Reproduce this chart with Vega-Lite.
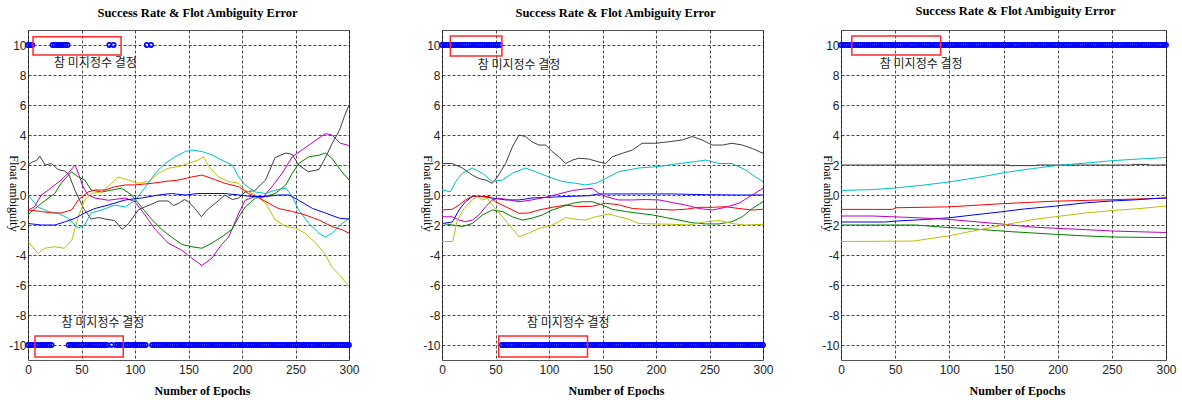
{
"$schema":"https://vega.github.io/schema/vega-lite/v6.json",
"padding":{"left":6,"top":4,"right":0,"bottom":0},
"background":"white",
"datasets":{
"lines":[
{"p":1,"s":"k","x":0,"y":2.0},{"p":1,"s":"k","x":4,"y":2.2},{"p":1,"s":"k","x":8,"y":2.3},{"p":1,"s":"k","x":11,"y":2.6},{"p":1,"s":"k","x":16,"y":2.0},{"p":1,"s":"k","x":22,"y":2.1},{"p":1,"s":"k","x":28,"y":1.7},{"p":1,"s":"k","x":34,"y":1.6},{"p":1,"s":"k","x":38,"y":1.4},{"p":1,"s":"k","x":44,"y":0.3},{"p":1,"s":"k","x":48,"y":-0.3},{"p":1,"s":"k","x":52,"y":-0.9},{"p":1,"s":"k","x":59,"y":-1.6},{"p":1,"s":"k","x":66,"y":-1.5},{"p":1,"s":"k","x":72,"y":-1.6},{"p":1,"s":"k","x":81,"y":-1.7},{"p":1,"s":"k","x":88,"y":-2.3},{"p":1,"s":"k","x":94,"y":-1.9},{"p":1,"s":"k","x":100,"y":-1.3},{"p":1,"s":"k","x":103,"y":-1.0},{"p":1,"s":"k","x":109,"y":-0.8},{"p":1,"s":"k","x":116,"y":-0.6},{"p":1,"s":"k","x":122,"y":-0.4},{"p":1,"s":"k","x":131,"y":-0.4},{"p":1,"s":"k","x":136,"y":-0.7},{"p":1,"s":"k","x":141,"y":-0.55},{"p":1,"s":"k","x":146,"y":-0.3},{"p":1,"s":"k","x":150,"y":-0.45},{"p":1,"s":"k","x":156,"y":-0.9},{"p":1,"s":"k","x":162,"y":-1.45},{"p":1,"s":"k","x":166,"y":-1.1},{"p":1,"s":"k","x":169,"y":-0.9},{"p":1,"s":"k","x":176,"y":-0.5},{"p":1,"s":"k","x":184,"y":0.0},{"p":1,"s":"k","x":191,"y":-0.3},{"p":1,"s":"k","x":197,"y":-0.2},{"p":1,"s":"k","x":203,"y":0.2},{"p":1,"s":"k","x":212,"y":0.3},{"p":1,"s":"k","x":222,"y":1.0},{"p":1,"s":"k","x":231,"y":2.5},{"p":1,"s":"k","x":241,"y":2.8},{"p":1,"s":"k","x":247,"y":2.7},{"p":1,"s":"k","x":253,"y":2.0},{"p":1,"s":"k","x":262,"y":1.55},{"p":1,"s":"k","x":272,"y":1.7},{"p":1,"s":"k","x":278,"y":2.5},{"p":1,"s":"k","x":284,"y":3.4},{"p":1,"s":"k","x":291,"y":4.3},{"p":1,"s":"k","x":296,"y":5.3},{"p":1,"s":"k","x":300,"y":6.0},
{"p":1,"s":"m","x":0,"y":-1.0},{"p":1,"s":"m","x":6,"y":-0.8},{"p":1,"s":"m","x":12.5,"y":0},{"p":1,"s":"m","x":19,"y":0.33},{"p":1,"s":"m","x":25,"y":0.67},{"p":1,"s":"m","x":31,"y":1.0},{"p":1,"s":"m","x":37.5,"y":1.45},{"p":1,"s":"m","x":44,"y":2.0},{"p":1,"s":"m","x":47,"y":1.45},{"p":1,"s":"m","x":51.5,"y":0.55},{"p":1,"s":"m","x":56,"y":0},{"p":1,"s":"m","x":62.5,"y":-0.2},{"p":1,"s":"m","x":75,"y":-0.35},{"p":1,"s":"m","x":91,"y":-0.2},{"p":1,"s":"m","x":100,"y":-0.45},{"p":1,"s":"m","x":109,"y":-1.3},{"p":1,"s":"m","x":119,"y":-2.3},{"p":1,"s":"m","x":131,"y":-3.2},{"p":1,"s":"m","x":144,"y":-3.7},{"p":1,"s":"m","x":153,"y":-4.2},{"p":1,"s":"m","x":162.5,"y":-4.7},{"p":1,"s":"m","x":172,"y":-4.2},{"p":1,"s":"m","x":181,"y":-3.3},{"p":1,"s":"m","x":187.5,"y":-2.8},{"p":1,"s":"m","x":197,"y":-1.2},{"p":1,"s":"m","x":203,"y":-0.35},{"p":1,"s":"m","x":212.5,"y":-0.1},{"p":1,"s":"m","x":219,"y":-0.2},{"p":1,"s":"m","x":228,"y":0.55},{"p":1,"s":"m","x":237.5,"y":1.45},{"p":1,"s":"m","x":247,"y":2.55},{"p":1,"s":"m","x":256,"y":3.0},{"p":1,"s":"m","x":269,"y":3.65},{"p":1,"s":"m","x":278,"y":4.1},{"p":1,"s":"m","x":284,"y":4.0},{"p":1,"s":"m","x":292,"y":3.45},{"p":1,"s":"m","x":300,"y":3.3},
{"p":1,"s":"g","x":0,"y":-1.3},{"p":1,"s":"g","x":12.5,"y":-0.55},{"p":1,"s":"g","x":25,"y":0.1},{"p":1,"s":"g","x":31,"y":0.78},{"p":1,"s":"g","x":40.6,"y":1.55},{"p":1,"s":"g","x":47,"y":1.2},{"p":1,"s":"g","x":53,"y":1.0},{"p":1,"s":"g","x":59,"y":0.33},{"p":1,"s":"g","x":69,"y":0.2},{"p":1,"s":"g","x":78,"y":0.33},{"p":1,"s":"g","x":87.5,"y":0.45},{"p":1,"s":"g","x":97,"y":0},{"p":1,"s":"g","x":106,"y":-0.8},{"p":1,"s":"g","x":116,"y":-1.65},{"p":1,"s":"g","x":125,"y":-2.3},{"p":1,"s":"g","x":134,"y":-2.8},{"p":1,"s":"g","x":144,"y":-3.3},{"p":1,"s":"g","x":153,"y":-3.45},{"p":1,"s":"g","x":162.5,"y":-3.55},{"p":1,"s":"g","x":172,"y":-3.2},{"p":1,"s":"g","x":181,"y":-2.8},{"p":1,"s":"g","x":190.6,"y":-2.3},{"p":1,"s":"g","x":197,"y":-1.45},{"p":1,"s":"g","x":203,"y":-0.8},{"p":1,"s":"g","x":212.5,"y":-0.2},{"p":1,"s":"g","x":222,"y":-0.1},{"p":1,"s":"g","x":231,"y":0.1},{"p":1,"s":"g","x":241,"y":0.67},{"p":1,"s":"g","x":247,"y":1.45},{"p":1,"s":"g","x":253,"y":2.1},{"p":1,"s":"g","x":262.5,"y":2.55},{"p":1,"s":"g","x":272,"y":2.65},{"p":1,"s":"g","x":278,"y":2.8},{"p":1,"s":"g","x":284,"y":2.45},{"p":1,"s":"g","x":292,"y":1.67},{"p":1,"s":"g","x":300,"y":1.0},
{"p":1,"s":"c","x":0,"y":0},{"p":1,"s":"c","x":9.4,"y":-0.8},{"p":1,"s":"c","x":19,"y":-1.1},{"p":1,"s":"c","x":28,"y":-1.2},{"p":1,"s":"c","x":37.5,"y":-1.55},{"p":1,"s":"c","x":47,"y":-2.2},{"p":1,"s":"c","x":53,"y":-2.0},{"p":1,"s":"c","x":59,"y":-1.2},{"p":1,"s":"c","x":69,"y":-1.0},{"p":1,"s":"c","x":81,"y":-0.67},{"p":1,"s":"c","x":91,"y":-0.8},{"p":1,"s":"c","x":100,"y":-0.35},{"p":1,"s":"c","x":109,"y":0.45},{"p":1,"s":"c","x":119,"y":1.45},{"p":1,"s":"c","x":128,"y":2.1},{"p":1,"s":"c","x":137.5,"y":2.55},{"p":1,"s":"c","x":147,"y":2.9},{"p":1,"s":"c","x":153,"y":3.0},{"p":1,"s":"c","x":162.5,"y":2.9},{"p":1,"s":"c","x":172,"y":2.67},{"p":1,"s":"c","x":181,"y":2.33},{"p":1,"s":"c","x":191,"y":2.0},{"p":1,"s":"c","x":197,"y":1.2},{"p":1,"s":"c","x":203,"y":0.67},{"p":1,"s":"c","x":212.5,"y":0.2},{"p":1,"s":"c","x":222,"y":0.1},{"p":1,"s":"c","x":231,"y":0.33},{"p":1,"s":"c","x":241,"y":0.45},{"p":1,"s":"c","x":247,"y":-0.1},{"p":1,"s":"c","x":253,"y":-1.0},{"p":1,"s":"c","x":262.5,"y":-1.9},{"p":1,"s":"c","x":272,"y":-2.55},{"p":1,"s":"c","x":278,"y":-2.8},{"p":1,"s":"c","x":284,"y":-2.55},{"p":1,"s":"c","x":292,"y":-2.0},{"p":1,"s":"c","x":300,"y":-1.55},
{"p":1,"s":"y","x":0,"y":-3.1},{"p":1,"s":"y","x":9.4,"y":-3.9},{"p":1,"s":"y","x":15.6,"y":-3.55},{"p":1,"s":"y","x":25,"y":-3.45},{"p":1,"s":"y","x":34,"y":-3.55},{"p":1,"s":"y","x":41,"y":-3.0},{"p":1,"s":"y","x":47,"y":-1.45},{"p":1,"s":"y","x":53,"y":-0.33},{"p":1,"s":"y","x":59,"y":0.1},{"p":1,"s":"y","x":69,"y":0.2},{"p":1,"s":"y","x":78,"y":0.78},{"p":1,"s":"y","x":84,"y":1.2},{"p":1,"s":"y","x":94,"y":1.0},{"p":1,"s":"y","x":103,"y":0.78},{"p":1,"s":"y","x":112.5,"y":0.9},{"p":1,"s":"y","x":122,"y":1.45},{"p":1,"s":"y","x":131,"y":1.78},{"p":1,"s":"y","x":141,"y":1.9},{"p":1,"s":"y","x":150,"y":2.1},{"p":1,"s":"y","x":159,"y":2.33},{"p":1,"s":"y","x":164,"y":2.55},{"p":1,"s":"y","x":169,"y":1.9},{"p":1,"s":"y","x":178,"y":1.2},{"p":1,"s":"y","x":187.5,"y":0.9},{"p":1,"s":"y","x":197,"y":0.78},{"p":1,"s":"y","x":203,"y":0.33},{"p":1,"s":"y","x":212.5,"y":0},{"p":1,"s":"y","x":222,"y":-0.55},{"p":1,"s":"y","x":231,"y":-1.65},{"p":1,"s":"y","x":241,"y":-2.1},{"p":1,"s":"y","x":250,"y":-2.2},{"p":1,"s":"y","x":259,"y":-2.55},{"p":1,"s":"y","x":269,"y":-3.2},{"p":1,"s":"y","x":278,"y":-4.0},{"p":1,"s":"y","x":284,"y":-4.8},{"p":1,"s":"y","x":292,"y":-5.4},{"p":1,"s":"y","x":300,"y":-6.1},
{"p":1,"s":"r","x":0,"y":-1.0},{"p":1,"s":"r","x":12.5,"y":-1.1},{"p":1,"s":"r","x":22,"y":-1.2},{"p":1,"s":"r","x":31,"y":-1.2},{"p":1,"s":"r","x":40.6,"y":-1.0},{"p":1,"s":"r","x":47,"y":-0.33},{"p":1,"s":"r","x":56,"y":0.2},{"p":1,"s":"r","x":62.5,"y":0.33},{"p":1,"s":"r","x":72,"y":0.33},{"p":1,"s":"r","x":81,"y":0.55},{"p":1,"s":"r","x":91,"y":0.67},{"p":1,"s":"r","x":100,"y":0.67},{"p":1,"s":"r","x":116,"y":0.78},{"p":1,"s":"r","x":128,"y":0.9},{"p":1,"s":"r","x":141,"y":1.0},{"p":1,"s":"r","x":153,"y":1.2},{"p":1,"s":"r","x":162.5,"y":1.33},{"p":1,"s":"r","x":172,"y":1.1},{"p":1,"s":"r","x":184,"y":0.78},{"p":1,"s":"r","x":197,"y":0.55},{"p":1,"s":"r","x":206,"y":0.1},{"p":1,"s":"r","x":216,"y":-0.2},{"p":1,"s":"r","x":225,"y":-0.55},{"p":1,"s":"r","x":234,"y":-0.9},{"p":1,"s":"r","x":247,"y":-1.1},{"p":1,"s":"r","x":259,"y":-1.33},{"p":1,"s":"r","x":272,"y":-1.67},{"p":1,"s":"r","x":284,"y":-2.1},{"p":1,"s":"r","x":294,"y":-2.33},{"p":1,"s":"r","x":300,"y":-2.55},
{"p":1,"s":"b","x":0,"y":-1.9},{"p":1,"s":"b","x":12.5,"y":-2.0},{"p":1,"s":"b","x":25,"y":-2.0},{"p":1,"s":"b","x":34,"y":-1.8},{"p":1,"s":"b","x":44,"y":-1.55},{"p":1,"s":"b","x":53,"y":-1.2},{"p":1,"s":"b","x":62.5,"y":-0.9},{"p":1,"s":"b","x":75,"y":-0.67},{"p":1,"s":"b","x":91,"y":-0.33},{"p":1,"s":"b","x":106,"y":-0.2},{"p":1,"s":"b","x":122,"y":0},{"p":1,"s":"b","x":134,"y":0.1},{"p":1,"s":"b","x":147,"y":0},{"p":1,"s":"b","x":159,"y":0.1},{"p":1,"s":"b","x":172,"y":0.1},{"p":1,"s":"b","x":184,"y":0.1},{"p":1,"s":"b","x":197,"y":0},{"p":1,"s":"b","x":209,"y":-0.1},{"p":1,"s":"b","x":222,"y":-0.1},{"p":1,"s":"b","x":234,"y":0},{"p":1,"s":"b","x":244,"y":0},{"p":1,"s":"b","x":253,"y":-0.35},{"p":1,"s":"b","x":266,"y":-0.9},{"p":1,"s":"b","x":278,"y":-1.2},{"p":1,"s":"b","x":291,"y":-1.55},{"p":1,"s":"b","x":300,"y":-1.6},
{"p":2,"s":"k","x":0,"y":2.1},{"p":2,"s":"k","x":9.7,"y":2.1},{"p":2,"s":"k","x":19,"y":1.8},{"p":2,"s":"k","x":28.3,"y":1.33},{"p":2,"s":"k","x":34.6,"y":1.1},{"p":2,"s":"k","x":40.8,"y":1.0},{"p":2,"s":"k","x":47,"y":0.78},{"p":2,"s":"k","x":51.7,"y":1.2},{"p":2,"s":"k","x":59.5,"y":2.1},{"p":2,"s":"k","x":65.7,"y":3.2},{"p":2,"s":"k","x":72,"y":4.0},{"p":2,"s":"k","x":78,"y":3.9},{"p":2,"s":"k","x":84,"y":3.55},{"p":2,"s":"k","x":90.6,"y":3.33},{"p":2,"s":"k","x":97,"y":3.33},{"p":2,"s":"k","x":103,"y":2.9},{"p":2,"s":"k","x":109,"y":2.55},{"p":2,"s":"k","x":115.6,"y":2.1},{"p":2,"s":"k","x":122,"y":2.33},{"p":2,"s":"k","x":128,"y":2.45},{"p":2,"s":"k","x":137,"y":2.4},{"p":2,"s":"k","x":146.7,"y":2.2},{"p":2,"s":"k","x":153,"y":2.1},{"p":2,"s":"k","x":159,"y":2.55},{"p":2,"s":"k","x":168.5,"y":2.78},{"p":2,"s":"k","x":178,"y":3.0},{"p":2,"s":"k","x":187,"y":3.45},{"p":2,"s":"k","x":199.7,"y":3.45},{"p":2,"s":"k","x":212,"y":3.55},{"p":2,"s":"k","x":224.6,"y":3.67},{"p":2,"s":"k","x":234,"y":3.9},{"p":2,"s":"k","x":243,"y":3.67},{"p":2,"s":"k","x":252.6,"y":3.33},{"p":2,"s":"k","x":262,"y":3.33},{"p":2,"s":"k","x":271,"y":3.45},{"p":2,"s":"k","x":280.7,"y":3.33},{"p":2,"s":"k","x":290,"y":3.1},{"p":2,"s":"k","x":300,"y":2.78},
{"p":2,"s":"c","x":0,"y":0.33},{"p":2,"s":"c","x":8,"y":0.22},{"p":2,"s":"c","x":12.8,"y":0.9},{"p":2,"s":"c","x":19,"y":1.45},{"p":2,"s":"c","x":28.3,"y":1.8},{"p":2,"s":"c","x":37.7,"y":1.45},{"p":2,"s":"c","x":47,"y":0.9},{"p":2,"s":"c","x":56.4,"y":1.0},{"p":2,"s":"c","x":65.7,"y":1.45},{"p":2,"s":"c","x":78,"y":1.8},{"p":2,"s":"c","x":87.5,"y":1.55},{"p":2,"s":"c","x":100,"y":1.2},{"p":2,"s":"c","x":112.5,"y":0.9},{"p":2,"s":"c","x":125,"y":0.78},{"p":2,"s":"c","x":134,"y":0.67},{"p":2,"s":"c","x":143.6,"y":0.78},{"p":2,"s":"c","x":153,"y":1.1},{"p":2,"s":"c","x":165,"y":1.55},{"p":2,"s":"c","x":184,"y":1.8},{"p":2,"s":"c","x":203,"y":1.9},{"p":2,"s":"c","x":221.5,"y":2.1},{"p":2,"s":"c","x":234,"y":2.2},{"p":2,"s":"c","x":246.4,"y":2.33},{"p":2,"s":"c","x":258.9,"y":2.1},{"p":2,"s":"c","x":271,"y":2.1},{"p":2,"s":"c","x":283.8,"y":1.67},{"p":2,"s":"c","x":293,"y":1.2},{"p":2,"s":"c","x":300,"y":0.9},
{"p":2,"s":"b","x":0,"y":-1.9},{"p":2,"s":"b","x":9.7,"y":-1.8},{"p":2,"s":"b","x":15.9,"y":-1.0},{"p":2,"s":"b","x":22,"y":-0.45},{"p":2,"s":"b","x":28.3,"y":-0.1},{"p":2,"s":"b","x":37.7,"y":-0.1},{"p":2,"s":"b","x":47,"y":-0.2},{"p":2,"s":"b","x":59.5,"y":-0.33},{"p":2,"s":"b","x":72,"y":-0.33},{"p":2,"s":"b","x":84,"y":-0.2},{"p":2,"s":"b","x":100,"y":-0.15},{"p":2,"s":"b","x":115.6,"y":-0.1},{"p":2,"s":"b","x":137,"y":-0.05},{"p":2,"s":"b","x":146.7,"y":0.07},{"p":2,"s":"b","x":184,"y":0.07},{"p":2,"s":"b","x":215,"y":0.07},{"p":2,"s":"b","x":246.4,"y":0.02},{"p":2,"s":"b","x":277.5,"y":0},{"p":2,"s":"b","x":300,"y":0},
{"p":2,"s":"r","x":0,"y":-1.0},{"p":2,"s":"r","x":9.7,"y":-0.95},{"p":2,"s":"r","x":15.9,"y":-0.67},{"p":2,"s":"r","x":22,"y":-0.33},{"p":2,"s":"r","x":28.3,"y":-0.07},{"p":2,"s":"r","x":37.7,"y":-0.1},{"p":2,"s":"r","x":44,"y":-0.1},{"p":2,"s":"r","x":50,"y":-0.45},{"p":2,"s":"r","x":59.5,"y":-0.78},{"p":2,"s":"r","x":72,"y":-1.22},{"p":2,"s":"r","x":81,"y":-1.2},{"p":2,"s":"r","x":90.6,"y":-1.0},{"p":2,"s":"r","x":103,"y":-0.82},{"p":2,"s":"r","x":115.6,"y":-0.67},{"p":2,"s":"r","x":128,"y":-0.78},{"p":2,"s":"r","x":140.5,"y":-0.75},{"p":2,"s":"r","x":153,"y":-0.55},{"p":2,"s":"r","x":165,"y":-0.65},{"p":2,"s":"r","x":178,"y":-0.9},{"p":2,"s":"r","x":190,"y":-0.95},{"p":2,"s":"r","x":203,"y":-0.95},{"p":2,"s":"r","x":215,"y":-1.0},{"p":2,"s":"r","x":227.7,"y":-0.95},{"p":2,"s":"r","x":240,"y":-0.82},{"p":2,"s":"r","x":252.6,"y":-0.82},{"p":2,"s":"r","x":265,"y":-0.78},{"p":2,"s":"r","x":277.5,"y":-0.9},{"p":2,"s":"r","x":290,"y":-1.0},{"p":2,"s":"r","x":300,"y":-0.95},
{"p":2,"s":"m","x":0,"y":-1.45},{"p":2,"s":"m","x":9.7,"y":-1.45},{"p":2,"s":"m","x":15.9,"y":-1.67},{"p":2,"s":"m","x":22,"y":-1.78},{"p":2,"s":"m","x":28.3,"y":-1.67},{"p":2,"s":"m","x":34.6,"y":-1.33},{"p":2,"s":"m","x":40.8,"y":-0.78},{"p":2,"s":"m","x":47,"y":-0.33},{"p":2,"s":"m","x":53,"y":-0.22},{"p":2,"s":"m","x":59.5,"y":-0.28},{"p":2,"s":"m","x":72,"y":-0.45},{"p":2,"s":"m","x":84,"y":-0.33},{"p":2,"s":"m","x":97,"y":-0.15},{"p":2,"s":"m","x":109,"y":0.07},{"p":2,"s":"m","x":122,"y":0.3},{"p":2,"s":"m","x":131,"y":0.38},{"p":2,"s":"m","x":140.5,"y":0.45},{"p":2,"s":"m","x":146.7,"y":0.1},{"p":2,"s":"m","x":153,"y":-0.1},{"p":2,"s":"m","x":165,"y":-0.33},{"p":2,"s":"m","x":178,"y":-0.33},{"p":2,"s":"m","x":190,"y":-0.3},{"p":2,"s":"m","x":203,"y":-0.33},{"p":2,"s":"m","x":215,"y":-0.5},{"p":2,"s":"m","x":227.7,"y":-0.67},{"p":2,"s":"m","x":240,"y":-0.9},{"p":2,"s":"m","x":252.6,"y":-1.0},{"p":2,"s":"m","x":265,"y":-0.82},{"p":2,"s":"m","x":277.5,"y":-0.55},{"p":2,"s":"m","x":290,"y":0},{"p":2,"s":"m","x":300,"y":0.45},
{"p":2,"s":"g","x":0,"y":-1.9},{"p":2,"s":"g","x":9.7,"y":-2.0},{"p":2,"s":"g","x":19,"y":-2.1},{"p":2,"s":"g","x":28.3,"y":-1.9},{"p":2,"s":"g","x":37.7,"y":-1.33},{"p":2,"s":"g","x":47,"y":-1.0},{"p":2,"s":"g","x":56.4,"y":-1.1},{"p":2,"s":"g","x":65.7,"y":-1.45},{"p":2,"s":"g","x":75,"y":-1.67},{"p":2,"s":"g","x":84,"y":-1.55},{"p":2,"s":"g","x":93.8,"y":-1.33},{"p":2,"s":"g","x":103,"y":-1.0},{"p":2,"s":"g","x":112.5,"y":-0.78},{"p":2,"s":"g","x":122,"y":-0.55},{"p":2,"s":"g","x":131,"y":-0.45},{"p":2,"s":"g","x":140.5,"y":-0.45},{"p":2,"s":"g","x":150,"y":-0.67},{"p":2,"s":"g","x":159,"y":-0.95},{"p":2,"s":"g","x":171.6,"y":-1.1},{"p":2,"s":"g","x":184,"y":-1.22},{"p":2,"s":"g","x":196.6,"y":-1.33},{"p":2,"s":"g","x":209,"y":-1.5},{"p":2,"s":"g","x":221.5,"y":-1.67},{"p":2,"s":"g","x":234,"y":-1.85},{"p":2,"s":"g","x":246.4,"y":-1.93},{"p":2,"s":"g","x":258.9,"y":-1.93},{"p":2,"s":"g","x":271,"y":-1.78},{"p":2,"s":"g","x":280.7,"y":-1.45},{"p":2,"s":"g","x":290,"y":-0.9},{"p":2,"s":"g","x":300,"y":-0.45},
{"p":2,"s":"y","x":0,"y":-3.1},{"p":2,"s":"y","x":10,"y":-3.1},{"p":2,"s":"y","x":14.3,"y":-1.67},{"p":2,"s":"y","x":20.6,"y":-0.9},{"p":2,"s":"y","x":28.3,"y":-0.33},{"p":2,"s":"y","x":33,"y":-0.1},{"p":2,"s":"y","x":37.7,"y":-0.33},{"p":2,"s":"y","x":42.4,"y":-0.22},{"p":2,"s":"y","x":47,"y":-0.67},{"p":2,"s":"y","x":56.4,"y":-1.45},{"p":2,"s":"y","x":64,"y":-2.1},{"p":2,"s":"y","x":72,"y":-2.78},{"p":2,"s":"y","x":81,"y":-2.55},{"p":2,"s":"y","x":90.6,"y":-2.22},{"p":2,"s":"y","x":100,"y":-2.1},{"p":2,"s":"y","x":109,"y":-1.78},{"p":2,"s":"y","x":115.6,"y":-1.5},{"p":2,"s":"y","x":125,"y":-1.62},{"p":2,"s":"y","x":134,"y":-1.67},{"p":2,"s":"y","x":143.6,"y":-1.45},{"p":2,"s":"y","x":156,"y":-1.27},{"p":2,"s":"y","x":165,"y":-1.45},{"p":2,"s":"y","x":174.8,"y":-1.62},{"p":2,"s":"y","x":184,"y":-1.9},{"p":2,"s":"y","x":199.7,"y":-1.93},{"p":2,"s":"y","x":215,"y":-1.95},{"p":2,"s":"y","x":230.8,"y":-2.0},{"p":2,"s":"y","x":246.4,"y":-1.78},{"p":2,"s":"y","x":258.9,"y":-1.7},{"p":2,"s":"y","x":271,"y":-1.9},{"p":2,"s":"y","x":283.8,"y":-2.0},{"p":2,"s":"y","x":300,"y":-1.95},
{"p":3,"s":"k","x":0,"y":2.0},{"p":3,"s":"k","x":155,"y":2.0},{"p":3,"s":"k","x":156,"y":1.96},{"p":3,"s":"k","x":180,"y":1.96},{"p":3,"s":"k","x":181,"y":2.0},{"p":3,"s":"k","x":268,"y":2.0},{"p":3,"s":"k","x":269,"y":2.04},{"p":3,"s":"k","x":284,"y":2.04},{"p":3,"s":"k","x":285,"y":2.0},{"p":3,"s":"k","x":300,"y":2.0},
{"p":3,"s":"c","x":0,"y":0.3},{"p":3,"s":"c","x":29,"y":0.36},{"p":3,"s":"c","x":50.5,"y":0.47},{"p":3,"s":"c","x":75,"y":0.65},{"p":3,"s":"c","x":99.7,"y":0.87},{"p":3,"s":"c","x":127.4,"y":1.18},{"p":3,"s":"c","x":152,"y":1.51},{"p":3,"s":"c","x":176.6,"y":1.76},{"p":3,"s":"c","x":201,"y":1.98},{"p":3,"s":"c","x":226,"y":2.13},{"p":3,"s":"c","x":250.5,"y":2.29},{"p":3,"s":"c","x":275,"y":2.4},{"p":3,"s":"c","x":300,"y":2.5},
{"p":3,"s":"r","x":0,"y":-0.96},{"p":3,"s":"r","x":47.4,"y":-0.96},{"p":3,"s":"r","x":50.5,"y":-0.85},{"p":3,"s":"r","x":99.7,"y":-0.79},{"p":3,"s":"r","x":145.8,"y":-0.59},{"p":3,"s":"r","x":198,"y":-0.41},{"p":3,"s":"r","x":247.4,"y":-0.32},{"p":3,"s":"r","x":300,"y":-0.21},
{"p":3,"s":"b","x":0,"y":-1.8},{"p":3,"s":"b","x":41,"y":-1.8},{"p":3,"s":"b","x":50.5,"y":-1.74},{"p":3,"s":"b","x":78,"y":-1.63},{"p":3,"s":"b","x":99.7,"y":-1.52},{"p":3,"s":"b","x":121,"y":-1.34},{"p":3,"s":"b","x":145.8,"y":-1.14},{"p":3,"s":"b","x":170.5,"y":-0.92},{"p":3,"s":"b","x":198,"y":-0.74},{"p":3,"s":"b","x":226,"y":-0.52},{"p":3,"s":"b","x":247.4,"y":-0.41},{"p":3,"s":"b","x":272,"y":-0.32},{"p":3,"s":"b","x":290.5,"y":-0.23},{"p":3,"s":"b","x":300,"y":-0.19},
{"p":3,"s":"m","x":0,"y":-1.4},{"p":3,"s":"m","x":29,"y":-1.4},{"p":3,"s":"m","x":72,"y":-1.52},{"p":3,"s":"m","x":99.7,"y":-1.63},{"p":3,"s":"m","x":127.4,"y":-1.8},{"p":3,"s":"m","x":152,"y":-1.96},{"p":3,"s":"m","x":176.6,"y":-2.14},{"p":3,"s":"m","x":201,"y":-2.23},{"p":3,"s":"m","x":226,"y":-2.31},{"p":3,"s":"m","x":250.5,"y":-2.4},{"p":3,"s":"m","x":275,"y":-2.45},{"p":3,"s":"m","x":300,"y":-2.5},
{"p":3,"s":"g","x":0,"y":-2.0},{"p":3,"s":"g","x":69,"y":-2.0},{"p":3,"s":"g","x":93.5,"y":-2.14},{"p":3,"s":"g","x":127.4,"y":-2.29},{"p":3,"s":"g","x":158,"y":-2.45},{"p":3,"s":"g","x":198,"y":-2.62},{"p":3,"s":"g","x":226,"y":-2.73},{"p":3,"s":"g","x":250.5,"y":-2.8},{"p":3,"s":"g","x":300,"y":-2.84},
{"p":3,"s":"y","x":0,"y":-3.1},{"p":3,"s":"y","x":67,"y":-3.07},{"p":3,"s":"y","x":98,"y":-2.74},{"p":3,"s":"y","x":122,"y":-2.4},{"p":3,"s":"y","x":150,"y":-2.0},{"p":3,"s":"y","x":178,"y":-1.63},{"p":3,"s":"y","x":202,"y":-1.41},{"p":3,"s":"y","x":227,"y":-1.19},{"p":3,"s":"y","x":252,"y":-1.03},{"p":3,"s":"y","x":276,"y":-0.9},{"p":3,"s":"y","x":300,"y":-0.74}
],
"marks":[
{"p":1,"x":0,"y":10},{"p":1,"x":2,"y":10},{"p":1,"x":4,"y":10},{"p":1,"x":23,"y":10},{"p":1,"x":25,"y":10},{"p":1,"x":27,"y":10},{"p":1,"x":28,"y":10},{"p":1,"x":29,"y":10},{"p":1,"x":30,"y":10},{"p":1,"x":31,"y":10},{"p":1,"x":33,"y":10},{"p":1,"x":35,"y":10},{"p":1,"x":37,"y":10},{"p":1,"x":76,"y":10},{"p":1,"x":80,"y":10},{"p":1,"x":111,"y":10},{"p":1,"x":115,"y":10},
{"p":1,"x":0,"y":-10},{"p":1,"x":2,"y":-10},{"p":1,"x":4,"y":-10},{"p":1,"x":6,"y":-10},{"p":1,"x":8,"y":-10},{"p":1,"x":10,"y":-10},{"p":1,"x":12,"y":-10},{"p":1,"x":14,"y":-10},{"p":1,"x":16,"y":-10},{"p":1,"x":18,"y":-10},{"p":1,"x":20,"y":-10},{"p":1,"x":22,"y":-10},{"p":1,"x":38,"y":-10},{"p":1,"x":40,"y":-10},{"p":1,"x":42,"y":-10},{"p":1,"x":44,"y":-10},{"p":1,"x":46,"y":-10},{"p":1,"x":48,"y":-10},{"p":1,"x":50,"y":-10},{"p":1,"x":52,"y":-10},{"p":1,"x":54,"y":-10},{"p":1,"x":56,"y":-10},{"p":1,"x":58,"y":-10},{"p":1,"x":60,"y":-10},{"p":1,"x":62,"y":-10},{"p":1,"x":64,"y":-10},{"p":1,"x":66,"y":-10},{"p":1,"x":68,"y":-10},{"p":1,"x":70,"y":-10},{"p":1,"x":72,"y":-10},{"p":1,"x":74,"y":-10},{"p":1,"x":78,"y":-10},{"p":1,"x":82,"y":-10},{"p":1,"x":84,"y":-10},{"p":1,"x":86,"y":-10},{"p":1,"x":88,"y":-10},{"p":1,"x":90,"y":-10},{"p":1,"x":92,"y":-10},{"p":1,"x":94,"y":-10},{"p":1,"x":96,"y":-10},{"p":1,"x":98,"y":-10},{"p":1,"x":100,"y":-10},{"p":1,"x":102,"y":-10},{"p":1,"x":104,"y":-10},{"p":1,"x":106,"y":-10},{"p":1,"x":108,"y":-10},{"p":1,"x":110,"y":-10},{"p":1,"x":116,"y":-10},{"p":1,"x":118,"y":-10},{"p":1,"x":120,"y":-10},{"p":1,"x":122,"y":-10},{"p":1,"x":124,"y":-10},{"p":1,"x":126,"y":-10},{"p":1,"x":128,"y":-10},{"p":1,"x":130,"y":-10},{"p":1,"x":132,"y":-10},{"p":1,"x":134,"y":-10},{"p":1,"x":136,"y":-10},{"p":1,"x":138,"y":-10},{"p":1,"x":140,"y":-10},{"p":1,"x":142,"y":-10},{"p":1,"x":144,"y":-10},{"p":1,"x":146,"y":-10},{"p":1,"x":148,"y":-10},{"p":1,"x":150,"y":-10},{"p":1,"x":152,"y":-10},{"p":1,"x":154,"y":-10},{"p":1,"x":156,"y":-10},{"p":1,"x":158,"y":-10},{"p":1,"x":160,"y":-10},{"p":1,"x":162,"y":-10},{"p":1,"x":164,"y":-10},{"p":1,"x":166,"y":-10},{"p":1,"x":168,"y":-10},{"p":1,"x":170,"y":-10},{"p":1,"x":172,"y":-10},{"p":1,"x":174,"y":-10},{"p":1,"x":176,"y":-10},{"p":1,"x":178,"y":-10},{"p":1,"x":180,"y":-10},{"p":1,"x":182,"y":-10},{"p":1,"x":184,"y":-10},{"p":1,"x":186,"y":-10},{"p":1,"x":188,"y":-10},{"p":1,"x":190,"y":-10},{"p":1,"x":192,"y":-10},{"p":1,"x":194,"y":-10},{"p":1,"x":196,"y":-10},{"p":1,"x":198,"y":-10},{"p":1,"x":200,"y":-10},{"p":1,"x":202,"y":-10},{"p":1,"x":204,"y":-10},{"p":1,"x":206,"y":-10},{"p":1,"x":208,"y":-10},{"p":1,"x":210,"y":-10},{"p":1,"x":212,"y":-10},{"p":1,"x":214,"y":-10},{"p":1,"x":216,"y":-10},{"p":1,"x":218,"y":-10},{"p":1,"x":220,"y":-10},{"p":1,"x":222,"y":-10},{"p":1,"x":224,"y":-10},{"p":1,"x":226,"y":-10},{"p":1,"x":228,"y":-10},{"p":1,"x":230,"y":-10},{"p":1,"x":232,"y":-10},{"p":1,"x":234,"y":-10},{"p":1,"x":236,"y":-10},{"p":1,"x":238,"y":-10},{"p":1,"x":240,"y":-10},{"p":1,"x":242,"y":-10},{"p":1,"x":244,"y":-10},{"p":1,"x":246,"y":-10},{"p":1,"x":248,"y":-10},{"p":1,"x":250,"y":-10},{"p":1,"x":252,"y":-10},{"p":1,"x":254,"y":-10},{"p":1,"x":256,"y":-10},{"p":1,"x":258,"y":-10},{"p":1,"x":260,"y":-10},{"p":1,"x":262,"y":-10},{"p":1,"x":264,"y":-10},{"p":1,"x":266,"y":-10},{"p":1,"x":268,"y":-10},{"p":1,"x":270,"y":-10},{"p":1,"x":272,"y":-10},{"p":1,"x":274,"y":-10},{"p":1,"x":276,"y":-10},{"p":1,"x":278,"y":-10},{"p":1,"x":280,"y":-10},{"p":1,"x":282,"y":-10},{"p":1,"x":284,"y":-10},{"p":1,"x":286,"y":-10},{"p":1,"x":288,"y":-10},{"p":1,"x":290,"y":-10},{"p":1,"x":292,"y":-10},{"p":1,"x":294,"y":-10},{"p":1,"x":296,"y":-10},{"p":1,"x":298,"y":-10},{"p":1,"x":300,"y":-10},
{"p":2,"x":0,"y":10},{"p":2,"x":2,"y":10},{"p":2,"x":4,"y":10},{"p":2,"x":6,"y":10},{"p":2,"x":8,"y":10},{"p":2,"x":10,"y":10},{"p":2,"x":12,"y":10},{"p":2,"x":14,"y":10},{"p":2,"x":16,"y":10},{"p":2,"x":18,"y":10},{"p":2,"x":20,"y":10},{"p":2,"x":22,"y":10},{"p":2,"x":24,"y":10},{"p":2,"x":26,"y":10},{"p":2,"x":28,"y":10},{"p":2,"x":30,"y":10},{"p":2,"x":32,"y":10},{"p":2,"x":34,"y":10},{"p":2,"x":36,"y":10},{"p":2,"x":38,"y":10},{"p":2,"x":40,"y":10},{"p":2,"x":42,"y":10},{"p":2,"x":44,"y":10},{"p":2,"x":46,"y":10},{"p":2,"x":48,"y":10},{"p":2,"x":50,"y":10},{"p":2,"x":52,"y":10},{"p":2,"x":54,"y":10},
{"p":2,"x":56,"y":-10},{"p":2,"x":58,"y":-10},{"p":2,"x":60,"y":-10},{"p":2,"x":62,"y":-10},{"p":2,"x":64,"y":-10},{"p":2,"x":66,"y":-10},{"p":2,"x":68,"y":-10},{"p":2,"x":70,"y":-10},{"p":2,"x":72,"y":-10},{"p":2,"x":74,"y":-10},{"p":2,"x":76,"y":-10},{"p":2,"x":78,"y":-10},{"p":2,"x":80,"y":-10},{"p":2,"x":82,"y":-10},{"p":2,"x":84,"y":-10},{"p":2,"x":86,"y":-10},{"p":2,"x":88,"y":-10},{"p":2,"x":90,"y":-10},{"p":2,"x":92,"y":-10},{"p":2,"x":94,"y":-10},{"p":2,"x":96,"y":-10},{"p":2,"x":98,"y":-10},{"p":2,"x":100,"y":-10},{"p":2,"x":102,"y":-10},{"p":2,"x":104,"y":-10},{"p":2,"x":106,"y":-10},{"p":2,"x":108,"y":-10},{"p":2,"x":110,"y":-10},{"p":2,"x":112,"y":-10},{"p":2,"x":114,"y":-10},{"p":2,"x":116,"y":-10},{"p":2,"x":118,"y":-10},{"p":2,"x":120,"y":-10},{"p":2,"x":122,"y":-10},{"p":2,"x":124,"y":-10},{"p":2,"x":126,"y":-10},{"p":2,"x":128,"y":-10},{"p":2,"x":130,"y":-10},{"p":2,"x":132,"y":-10},{"p":2,"x":134,"y":-10},{"p":2,"x":136,"y":-10},{"p":2,"x":138,"y":-10},{"p":2,"x":140,"y":-10},{"p":2,"x":142,"y":-10},{"p":2,"x":144,"y":-10},{"p":2,"x":146,"y":-10},{"p":2,"x":148,"y":-10},{"p":2,"x":150,"y":-10},{"p":2,"x":152,"y":-10},{"p":2,"x":154,"y":-10},{"p":2,"x":156,"y":-10},{"p":2,"x":158,"y":-10},{"p":2,"x":160,"y":-10},{"p":2,"x":162,"y":-10},{"p":2,"x":164,"y":-10},{"p":2,"x":166,"y":-10},{"p":2,"x":168,"y":-10},{"p":2,"x":170,"y":-10},{"p":2,"x":172,"y":-10},{"p":2,"x":174,"y":-10},{"p":2,"x":176,"y":-10},{"p":2,"x":178,"y":-10},{"p":2,"x":180,"y":-10},{"p":2,"x":182,"y":-10},{"p":2,"x":184,"y":-10},{"p":2,"x":186,"y":-10},{"p":2,"x":188,"y":-10},{"p":2,"x":190,"y":-10},{"p":2,"x":192,"y":-10},{"p":2,"x":194,"y":-10},{"p":2,"x":196,"y":-10},{"p":2,"x":198,"y":-10},{"p":2,"x":200,"y":-10},{"p":2,"x":202,"y":-10},{"p":2,"x":204,"y":-10},{"p":2,"x":206,"y":-10},{"p":2,"x":208,"y":-10},{"p":2,"x":210,"y":-10},{"p":2,"x":212,"y":-10},{"p":2,"x":214,"y":-10},{"p":2,"x":216,"y":-10},{"p":2,"x":218,"y":-10},{"p":2,"x":220,"y":-10},{"p":2,"x":222,"y":-10},{"p":2,"x":224,"y":-10},{"p":2,"x":226,"y":-10},{"p":2,"x":228,"y":-10},{"p":2,"x":230,"y":-10},{"p":2,"x":232,"y":-10},{"p":2,"x":234,"y":-10},{"p":2,"x":236,"y":-10},{"p":2,"x":238,"y":-10},{"p":2,"x":240,"y":-10},{"p":2,"x":242,"y":-10},{"p":2,"x":244,"y":-10},{"p":2,"x":246,"y":-10},{"p":2,"x":248,"y":-10},{"p":2,"x":250,"y":-10},{"p":2,"x":252,"y":-10},{"p":2,"x":254,"y":-10},{"p":2,"x":256,"y":-10},{"p":2,"x":258,"y":-10},{"p":2,"x":260,"y":-10},{"p":2,"x":262,"y":-10},{"p":2,"x":264,"y":-10},{"p":2,"x":266,"y":-10},{"p":2,"x":268,"y":-10},{"p":2,"x":270,"y":-10},{"p":2,"x":272,"y":-10},{"p":2,"x":274,"y":-10},{"p":2,"x":276,"y":-10},{"p":2,"x":278,"y":-10},{"p":2,"x":280,"y":-10},{"p":2,"x":282,"y":-10},{"p":2,"x":284,"y":-10},{"p":2,"x":286,"y":-10},{"p":2,"x":288,"y":-10},{"p":2,"x":290,"y":-10},{"p":2,"x":292,"y":-10},{"p":2,"x":294,"y":-10},{"p":2,"x":296,"y":-10},{"p":2,"x":298,"y":-10},{"p":2,"x":300,"y":-10},
{"p":3,"x":0,"y":10},{"p":3,"x":2,"y":10},{"p":3,"x":4,"y":10},{"p":3,"x":6,"y":10},{"p":3,"x":8,"y":10},{"p":3,"x":10,"y":10},{"p":3,"x":12,"y":10},{"p":3,"x":14,"y":10},{"p":3,"x":16,"y":10},{"p":3,"x":18,"y":10},{"p":3,"x":20,"y":10},{"p":3,"x":22,"y":10},{"p":3,"x":24,"y":10},{"p":3,"x":26,"y":10},{"p":3,"x":28,"y":10},{"p":3,"x":30,"y":10},{"p":3,"x":32,"y":10},{"p":3,"x":34,"y":10},{"p":3,"x":36,"y":10},{"p":3,"x":38,"y":10},{"p":3,"x":40,"y":10},{"p":3,"x":42,"y":10},{"p":3,"x":44,"y":10},{"p":3,"x":46,"y":10},{"p":3,"x":48,"y":10},{"p":3,"x":50,"y":10},{"p":3,"x":52,"y":10},{"p":3,"x":54,"y":10},{"p":3,"x":56,"y":10},{"p":3,"x":58,"y":10},{"p":3,"x":60,"y":10},{"p":3,"x":62,"y":10},{"p":3,"x":64,"y":10},{"p":3,"x":66,"y":10},{"p":3,"x":68,"y":10},{"p":3,"x":70,"y":10},{"p":3,"x":72,"y":10},{"p":3,"x":74,"y":10},{"p":3,"x":76,"y":10},{"p":3,"x":78,"y":10},{"p":3,"x":80,"y":10},{"p":3,"x":82,"y":10},{"p":3,"x":84,"y":10},{"p":3,"x":86,"y":10},{"p":3,"x":88,"y":10},{"p":3,"x":90,"y":10},{"p":3,"x":92,"y":10},{"p":3,"x":94,"y":10},{"p":3,"x":96,"y":10},{"p":3,"x":98,"y":10},{"p":3,"x":100,"y":10},{"p":3,"x":102,"y":10},{"p":3,"x":104,"y":10},{"p":3,"x":106,"y":10},{"p":3,"x":108,"y":10},{"p":3,"x":110,"y":10},{"p":3,"x":112,"y":10},{"p":3,"x":114,"y":10},{"p":3,"x":116,"y":10},{"p":3,"x":118,"y":10},{"p":3,"x":120,"y":10},{"p":3,"x":122,"y":10},{"p":3,"x":124,"y":10},{"p":3,"x":126,"y":10},{"p":3,"x":128,"y":10},{"p":3,"x":130,"y":10},{"p":3,"x":132,"y":10},{"p":3,"x":134,"y":10},{"p":3,"x":136,"y":10},{"p":3,"x":138,"y":10},{"p":3,"x":140,"y":10},{"p":3,"x":142,"y":10},{"p":3,"x":144,"y":10},{"p":3,"x":146,"y":10},{"p":3,"x":148,"y":10},{"p":3,"x":150,"y":10},{"p":3,"x":152,"y":10},{"p":3,"x":154,"y":10},{"p":3,"x":156,"y":10},{"p":3,"x":158,"y":10},{"p":3,"x":160,"y":10},{"p":3,"x":162,"y":10},{"p":3,"x":164,"y":10},{"p":3,"x":166,"y":10},{"p":3,"x":168,"y":10},{"p":3,"x":170,"y":10},{"p":3,"x":172,"y":10},{"p":3,"x":174,"y":10},{"p":3,"x":176,"y":10},{"p":3,"x":178,"y":10},{"p":3,"x":180,"y":10},{"p":3,"x":182,"y":10},{"p":3,"x":184,"y":10},{"p":3,"x":186,"y":10},{"p":3,"x":188,"y":10},{"p":3,"x":190,"y":10},{"p":3,"x":192,"y":10},{"p":3,"x":194,"y":10},{"p":3,"x":196,"y":10},{"p":3,"x":198,"y":10},{"p":3,"x":200,"y":10},{"p":3,"x":202,"y":10},{"p":3,"x":204,"y":10},{"p":3,"x":206,"y":10},{"p":3,"x":208,"y":10},{"p":3,"x":210,"y":10},{"p":3,"x":212,"y":10},{"p":3,"x":214,"y":10},{"p":3,"x":216,"y":10},{"p":3,"x":218,"y":10},{"p":3,"x":220,"y":10},{"p":3,"x":222,"y":10},{"p":3,"x":224,"y":10},{"p":3,"x":226,"y":10},{"p":3,"x":228,"y":10},{"p":3,"x":230,"y":10},{"p":3,"x":232,"y":10},{"p":3,"x":234,"y":10},{"p":3,"x":236,"y":10},{"p":3,"x":238,"y":10},{"p":3,"x":240,"y":10},{"p":3,"x":242,"y":10},{"p":3,"x":244,"y":10},{"p":3,"x":246,"y":10},{"p":3,"x":248,"y":10},{"p":3,"x":250,"y":10},{"p":3,"x":252,"y":10},{"p":3,"x":254,"y":10},{"p":3,"x":256,"y":10},{"p":3,"x":258,"y":10},{"p":3,"x":260,"y":10},{"p":3,"x":262,"y":10},{"p":3,"x":264,"y":10},{"p":3,"x":266,"y":10},{"p":3,"x":268,"y":10},{"p":3,"x":270,"y":10},{"p":3,"x":272,"y":10},{"p":3,"x":274,"y":10},{"p":3,"x":276,"y":10},{"p":3,"x":278,"y":10},{"p":3,"x":280,"y":10},{"p":3,"x":282,"y":10},{"p":3,"x":284,"y":10},{"p":3,"x":286,"y":10},{"p":3,"x":288,"y":10},{"p":3,"x":290,"y":10},{"p":3,"x":292,"y":10},{"p":3,"x":294,"y":10},{"p":3,"x":296,"y":10},{"p":3,"x":298,"y":10},{"p":3,"x":300,"y":10}
],
"rects":[
{"p":1,"x":4.7,"x2":87,"y":10.55,"y2":9.33},
{"p":1,"x":6.5,"x2":89,"y":-9.4,"y2":-10.8},
{"p":2,"x":7.8,"x2":56,"y":10.6,"y2":9.27},
{"p":2,"x":53,"x2":136,"y":-9.4,"y2":-10.8},
{"p":3,"x":10,"x2":92,"y":10.6,"y2":9.33}
],
"texts":[
{"p":1,"x":63,"y":8.8,"t":"참 미지정수 결정"},
{"p":1,"x":70,"y":-8.5,"t":"참 미지정수 결정"},
{"p":2,"x":72,"y":8.7,"t":"참 미지정수 결정"},
{"p":2,"x":118,"y":-8.55,"t":"참 미지정수 결정"},
{"p":3,"x":74,"y":8.75,"t":"참 미지정수 결정"}
]
},
"bounds":"flush",
"spacing":93,
"hconcat":[
{"width":321,"height":330,
"title":{"text":"Success Rate & Flot Ambiguity Error","dx":9,"offset":11},
"encoding":{
"x":{"field":"x","type":"quantitative","scale":{"domain":[0,300],"nice":false,"zero":false},"axis":{"values":[0,50,100,150,200,250,300],"title":"Number of Epochs","titleX":174,"titlePadding":10,"labelPadding":4,"labelFlush":false}},
"y":{"field":"y","type":"quantitative","scale":{"domain":[-11,11],"nice":false,"zero":false},"axis":{"values":[-10,-8,-6,-4,-2,0,2,4,6,8,10],"labelExpr":"toString(datum.value)","title":"Float ambiguity","titleAngle":90,"titleX":-15,"titleY":163,"titleAlign":"center","titleBaseline":"middle","titleFontWeight":"normal","labelPadding":2}}
},
"layer":[
{"data":{"name":"lines"},"transform":[{"filter":"datum.p==1"}],"mark":{"type":"line","strokeWidth":1,"clip":true},"encoding":{"color":{"field":"s","type":"nominal","scale":{"domain":["b","g","r","c","m","y","k"],"range":["#0000ff","#008000","#ff0000","#00bfbf","#bf00bf","#bfbf00","#404040"]},"legend":null},"order":{"field":"x","type":"quantitative"}}},
{"data":{"name":"marks"},"transform":[{"filter":"datum.p==1"}],"mark":{"type":"point","shape":"circle","filled":false,"size":18,"strokeWidth":1.6,"color":"#0000ff","opacity":1}},
{"data":{"name":"rects"},"transform":[{"filter":"datum.p==1"}],"mark":{"type":"rect","filled":false,"stroke":"#ff2a2a","strokeWidth":1.5},"encoding":{"x2":{"field":"x2"},"y2":{"field":"y2"}}},
{"data":{"name":"texts"},"transform":[{"filter":"datum.p==1"}],"mark":{"type":"text","font":"Noto Sans CJK KR","fontSize":12,"color":"#222222"},"encoding":{"text":{"field":"t"}}}
]},
{"bounds":"flush","spacing":78,"hconcat":[
{"width":321,"height":330,
"title":{"text":"Success Rate & Flot Ambiguity Error","dx":13,"offset":11},
"encoding":{
"x":{"field":"x","type":"quantitative","scale":{"domain":[0,300],"nice":false,"zero":false},"axis":{"values":[0,50,100,150,200,250,300],"title":"Number of Epochs","titleX":174,"titlePadding":10,"labelPadding":4,"labelFlush":false}},
"y":{"field":"y","type":"quantitative","scale":{"domain":[-11,11],"nice":false,"zero":false},"axis":{"values":[-10,-8,-6,-4,-2,0,2,4,6,8,10],"labelExpr":"toString(datum.value)","title":"Float ambiguity","titleAngle":90,"titleX":-15,"titleY":163,"titleAlign":"center","titleBaseline":"middle","titleFontWeight":"normal","labelPadding":2}}
},
"layer":[
{"data":{"name":"lines"},"transform":[{"filter":"datum.p==2"}],"mark":{"type":"line","strokeWidth":1,"clip":true},"encoding":{"color":{"field":"s","type":"nominal","scale":{"domain":["b","g","r","c","m","y","k"],"range":["#0000ff","#008000","#ff0000","#00bfbf","#bf00bf","#bfbf00","#404040"]},"legend":null},"order":{"field":"x","type":"quantitative"}}},
{"data":{"name":"marks"},"transform":[{"filter":"datum.p==2"}],"mark":{"type":"point","shape":"circle","filled":false,"size":18,"strokeWidth":1.6,"color":"#0000ff","opacity":1}},
{"data":{"name":"rects"},"transform":[{"filter":"datum.p==2"}],"mark":{"type":"rect","filled":false,"stroke":"#ff2a2a","strokeWidth":1.5},"encoding":{"x2":{"field":"x2"},"y2":{"field":"y2"}}},
{"data":{"name":"texts"},"transform":[{"filter":"datum.p==2"}],"mark":{"type":"text","font":"Noto Sans CJK KR","fontSize":12,"color":"#222222"},"encoding":{"text":{"field":"t"}}}
]},
{"width":325,"height":330,
"title":{"text":"Success Rate & Flot Ambiguity Error","dx":12,"offset":13},
"encoding":{
"x":{"field":"x","type":"quantitative","scale":{"domain":[0,300],"nice":false,"zero":false},"axis":{"values":[0,50,100,150,200,250,300],"title":"Number of Epochs","titleX":176,"titlePadding":10,"labelPadding":4,"labelFlush":false}},
"y":{"field":"y","type":"quantitative","scale":{"domain":[-11,11],"nice":false,"zero":false},"axis":{"values":[-10,-8,-6,-4,-2,0,2,4,6,8,10],"labelExpr":"toString(datum.value)","title":"Float ambiguity","titleAngle":90,"titleX":-14,"titleY":163,"titleAlign":"center","titleBaseline":"middle","titleFontWeight":"normal","labelPadding":2}}
},
"layer":[
{"data":{"name":"lines"},"transform":[{"filter":"datum.p==3"}],"mark":{"type":"line","strokeWidth":1,"clip":true},"encoding":{"color":{"field":"s","type":"nominal","scale":{"domain":["b","g","r","c","m","y","k"],"range":["#0000ff","#008000","#ff0000","#00bfbf","#bf00bf","#bfbf00","#404040"]},"legend":null},"order":{"field":"x","type":"quantitative"}}},
{"data":{"name":"marks"},"transform":[{"filter":"datum.p==3"}],"mark":{"type":"point","shape":"circle","filled":false,"size":18,"strokeWidth":1.6,"color":"#0000ff","opacity":1}},
{"data":{"name":"rects"},"transform":[{"filter":"datum.p==3"}],"mark":{"type":"rect","filled":false,"stroke":"#ff2a2a","strokeWidth":1.5},"encoding":{"x2":{"field":"x2"},"y2":{"field":"y2"}}},
{"data":{"name":"texts"},"transform":[{"filter":"datum.p==3"}],"mark":{"type":"text","font":"Noto Sans CJK KR","fontSize":12,"color":"#222222"},"encoding":{"text":{"field":"t"}}}
]}
]}
],
"config":{
"view":{"stroke":"#555555","strokeWidth":1},
"axis":{"grid":true,"gridColor":"#000000","gridDash":[3,2],"gridWidth":0.8,"gridOpacity":0.9,"domain":false,"ticks":false,"labelFont":"Liberation Sans","labelFontSize":12,"labelColor":"#222222","titleFont":"Liberation Serif","titleFontWeight":"bold","titleFontSize":12,"titleColor":"#000000"},
"title":{"font":"Liberation Serif","fontSize":12.5,"fontWeight":"bold","color":"#000000","anchor":"middle"}
}
}
